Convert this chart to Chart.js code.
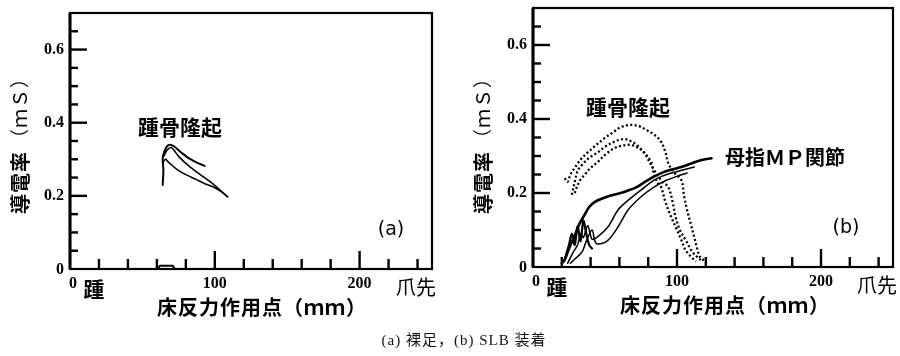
<!DOCTYPE html>
<html>
<head>
<meta charset="utf-8">
<script src="https://cdn.jsdelivr.net/npm/chart.js@4.4.1/dist/chart.umd.min.js"></script>
<style>
  html, body { margin: 0; padding: 0; background: #fff; }
  #wrap { position: relative; width: 900px; height: 356px; overflow: hidden; }
  canvas { position: absolute; top: 0; }
  #ca { left: 0; }
  #cb { left: 450px; }
  #caption { position: absolute; top: 328px; left: 0; width: 928px; text-align: center; letter-spacing: 1px;
             font: 15px "Liberation Serif", "Noto Sans CJK JP", serif; color: #111; }
</style>
</head>
<body>
<div id="wrap">
  <canvas id="ca" width="450" height="356"></canvas>
  <canvas id="cb" width="450" height="356"></canvas>
  <div id="caption">(a) 裸足，(b) SLB 装着</div>
</div>
<script>
// axis ranges and ticks
var X_MAX = 250;
var Y_MAX = 0.7;
var X_TICKS = [20, 40, 60, 80, 100, 120, 140, 160, 180, 200, 220, 240];
var X_MAJOR = [100, 200];
var X_LABELS = [0, 100, 200];
var Y_TICKS = [0.05, 0.1, 0.15, 0.2, 0.25, 0.3, 0.35, 0.4, 0.45, 0.5, 0.55, 0.6, 0.65];
var Y_MAJOR = [0.2, 0.4, 0.6];
var Y_LABELS = ['0', '0.2', '0.4', '0.6'];

// (a) barefoot — heel (踵骨隆起) traces, [mm, mS]
var A_HEEL_1 = [[64, 0.23], [64.5, 0.27], [64, 0.30], [65, 0.32], [67, 0.335], [69, 0.34], [72, 0.335],
                [77, 0.318], [82, 0.303], [88, 0.29], [93, 0.282]];
var A_HEEL_2 = [[65, 0.31], [67, 0.325], [70, 0.332], [75, 0.308], [82, 0.282], [90, 0.258], [97, 0.238],
                [103, 0.218], [108, 0.2]];
var A_HEEL_3 = [[64, 0.29], [66, 0.30], [68, 0.292], [74, 0.272], [80, 0.258], [87, 0.245], [94, 0.232],
                [100, 0.222], [105, 0.21], [109, 0.197]];
var A_BASE = [[61, 0.002], [62, 0.009], [71, 0.009], [72, 0.002]];

// (b) SLB — heel traces (dotted)
var B_HEEL_1 = [[22, 0.24], [24, 0.23], [26, 0.25], [29, 0.268], [33, 0.29], [38, 0.31], [44, 0.33], [50, 0.349],
                [56, 0.365], [61, 0.378], [68, 0.384], [74, 0.38], [79, 0.37], [85, 0.355], [89, 0.338],
                [92, 0.31], [94, 0.28], [98, 0.255], [103, 0.235], [105, 0.19], [107, 0.154], [110, 0.11],
                [112, 0.08], [114, 0.05], [116, 0.027], [120, 0.015]];
var B_HEEL_2 = [[27, 0.195], [29, 0.23], [31, 0.26], [34, 0.276], [39, 0.295], [45, 0.31], [50, 0.325],
                [56, 0.338], [63, 0.346], [68, 0.34], [72, 0.33], [77, 0.31], [82, 0.284], [84, 0.25],
                [87, 0.225], [89, 0.216], [92, 0.175], [96, 0.135], [100, 0.1], [103, 0.073], [106, 0.045],
                [110, 0.027], [113, 0.015]];
var B_HEEL_3 = [[29, 0.2], [32, 0.23], [36, 0.25], [40, 0.268], [45, 0.284], [50, 0.303], [56, 0.32],
                [62, 0.328], [68, 0.33], [73, 0.322], [77, 0.31], [82, 0.276], [86, 0.25], [90, 0.23],
                [94, 0.216], [97, 0.175], [99, 0.135], [102, 0.1], [106, 0.073], [110, 0.045], [114, 0.027],
                [118, 0.015]];

// (b) SLB — first MP joint (母指MP関節) traces (solid)
var B_MP_1 = [[20, 0.01], [22, 0.019], [25, 0.05], [29, 0.085], [32, 0.115], [36, 0.142], [39, 0.162],
              [43, 0.176], [50, 0.188], [55, 0.194], [61, 0.2], [67, 0.208], [72, 0.216], [77, 0.228],
              [82, 0.24], [91, 0.257], [97, 0.264], [103, 0.27], [110, 0.28], [117, 0.289], [124, 0.294]];
var B_MP_2 = [[24, 0.01], [28, 0.04], [31, 0.06], [33, 0.09], [35, 0.08], [38, 0.112], [41, 0.075],
              [45, 0.082], [52, 0.108], [59, 0.154], [66, 0.18], [75, 0.208], [84, 0.235], [90, 0.246],
              [96, 0.254], [104, 0.262], [112, 0.27]];
var B_MP_3 = [[26, 0.01], [30, 0.025], [34, 0.04], [37, 0.07], [41, 0.1], [43, 0.07], [45, 0.062],
              [52, 0.072], [59, 0.108], [66, 0.154], [75, 0.19], [84, 0.216], [93, 0.235], [100, 0.245],
              [107, 0.254]];
var B_MP_4 = [[22, 0.02], [25, 0.06], [27, 0.09], [29, 0.06], [31, 0.11], [33, 0.07], [35, 0.125],
              [37, 0.09], [39, 0.06], [41, 0.05]];

function pts(arr) {
  return arr.map(function (p) { return { x: p[0], y: p[1] }; });
}

function solid(arr, w, t) {
  return { data: pts(arr), showLine: true, borderColor: '#000', borderWidth: w, pointRadius: 0,
           tension: t === undefined ? 0.3 : t, borderJoinStyle: 'round', borderCapStyle: 'round' };
}

function dotted(arr) {
  return { data: pts(arr), showLine: true, borderColor: '#000', borderWidth: 2.3, pointRadius: 0,
           tension: 0.35, borderDash: [2, 2.4], borderCapStyle: 'butt' };
}

var CJK = '"Noto Sans CJK JP", sans-serif';
var NUM = '"Liberation Serif", serif';

function framePlugin(cfg) {
  return {
    id: 'frame',
    afterDraw: function (chart) {
      var ctx = chart.ctx, a = chart.chartArea;
      var xs = chart.scales.x, ys = chart.scales.y;
      ctx.save();
      ctx.strokeStyle = '#000';
      ctx.fillStyle = '#000';
      ctx.lineCap = 'butt';

      // frame
      ctx.lineWidth = 2.2;
      ctx.strokeRect(a.left, a.top, a.right - a.left, a.bottom - a.top);
      ctx.lineWidth = 3;
      ctx.beginPath(); ctx.moveTo(a.left, a.top); ctx.lineTo(a.left, a.bottom); ctx.stroke();

      // inward ticks
      ctx.lineWidth = 2.4;
      X_TICKS.forEach(function (v) {
        var px = xs.getPixelForValue(v);
        var len = X_MAJOR.indexOf(v) >= 0 ? 18 : 10;
        ctx.beginPath(); ctx.moveTo(px, a.bottom); ctx.lineTo(px, a.bottom - len); ctx.stroke();
      });
      Y_TICKS.forEach(function (v) {
        var py = ys.getPixelForValue(v);
        var len = Y_MAJOR.indexOf(v) >= 0 ? 17 : 8;
        ctx.beginPath(); ctx.moveTo(a.left, py); ctx.lineTo(a.left + len, py); ctx.stroke();
      });

      // y tick labels
      ctx.font = 'bold 16px ' + NUM;
      ctx.textAlign = 'right';
      ctx.textBaseline = 'middle';
      Y_LABELS.forEach(function (s) {
        var py = ys.getPixelForValue(parseFloat(s));
        ctx.fillText(s, a.left - 6, s === '0' ? py + 1 : py);
      });

      // x tick labels
      ctx.textAlign = 'center';
      X_LABELS.forEach(function (v) {
        var px = xs.getPixelForValue(v) + (v === 0 ? 3 : 0);
        ctx.fillText(String(v), px, a.bottom + 15);
      });
      ctx.font = 'bold 21px ' + CJK;
      ctx.fillText('踵', xs.getPixelForValue(0) + 24, a.bottom + 20);
      ctx.font = '20px ' + CJK;
      ctx.fillText('爪先', a.right - 16, a.bottom + 18);

      // x axis title
      ctx.font = 'bold 20px ' + CJK;
      ctx.letterSpacing = '1px';
      ctx.fillText('床反力作用点（ｍｍ）', a.left + 192, a.bottom + 38);

      // y axis title, rotated
      ctx.save();
      ctx.translate(a.left - 50, 214);
      ctx.rotate(-Math.PI / 2);
      ctx.textAlign = 'left';
      ctx.font = 'bold 20px ' + CJK;
      ctx.fillText('導電率', 0, 0);
      var w = ctx.measureText('導電率').width;
      ctx.font = '19px ' + CJK;
      ctx.fillText('（ｍＳ）', w + 3, 0);
      ctx.restore();
      ctx.letterSpacing = '0px';

      // annotations
      ctx.textAlign = 'center';
      cfg.notes.forEach(function (n) {
        ctx.font = n.font;
        ctx.fillText(n.text, n.x, n.y);
      });
      ctx.restore();
    }
  };
}

function makePanel(id, datasets, padding, notes) {
  return new Chart(document.getElementById(id), {
    type: 'scatter',
    data: { datasets: datasets },
    options: {
      responsive: false,
      animation: false,
      layout: { padding: padding },
      plugins: { legend: { display: false }, tooltip: { enabled: false } },
      scales: {
        x: { type: 'linear', min: 0, max: X_MAX, display: false },
        y: { type: 'linear', min: 0, max: Y_MAX, display: false }
      }
    },
    plugins: [framePlugin({ notes: notes })]
  });
}

makePanel('ca',
  [solid(A_HEEL_1, 2), solid(A_HEEL_2, 1.6), solid(A_HEEL_3, 1.6), solid(A_BASE, 2, 0)],
  { left: 70, right: 18, top: 13, bottom: 87 },
  [
    { text: '踵骨隆起', x: 180, y: 127, font: 'bold 21px ' + CJK },
    { text: '(a)', x: 391, y: 230, font: '19px "DejaVu Sans", sans-serif' }
  ]);

makePanel('cb',
  [dotted(B_HEEL_1), dotted(B_HEEL_2), dotted(B_HEEL_3),
   solid(B_MP_1, 2.6), solid(B_MP_2, 1.5), solid(B_MP_3, 1.5), solid(B_MP_4, 2.2)],
  { left: 83, right: 7, top: 8, bottom: 89 },
  [
    { text: '踵骨隆起', x: 178, y: 107, font: 'bold 21px ' + CJK },
    { text: '母指ＭＰ関節', x: 335, y: 157, font: 'bold 20px ' + CJK },
    { text: '(b)', x: 396, y: 228, font: '19px "DejaVu Sans", sans-serif' }
  ]);
</script>
</body>
</html>
